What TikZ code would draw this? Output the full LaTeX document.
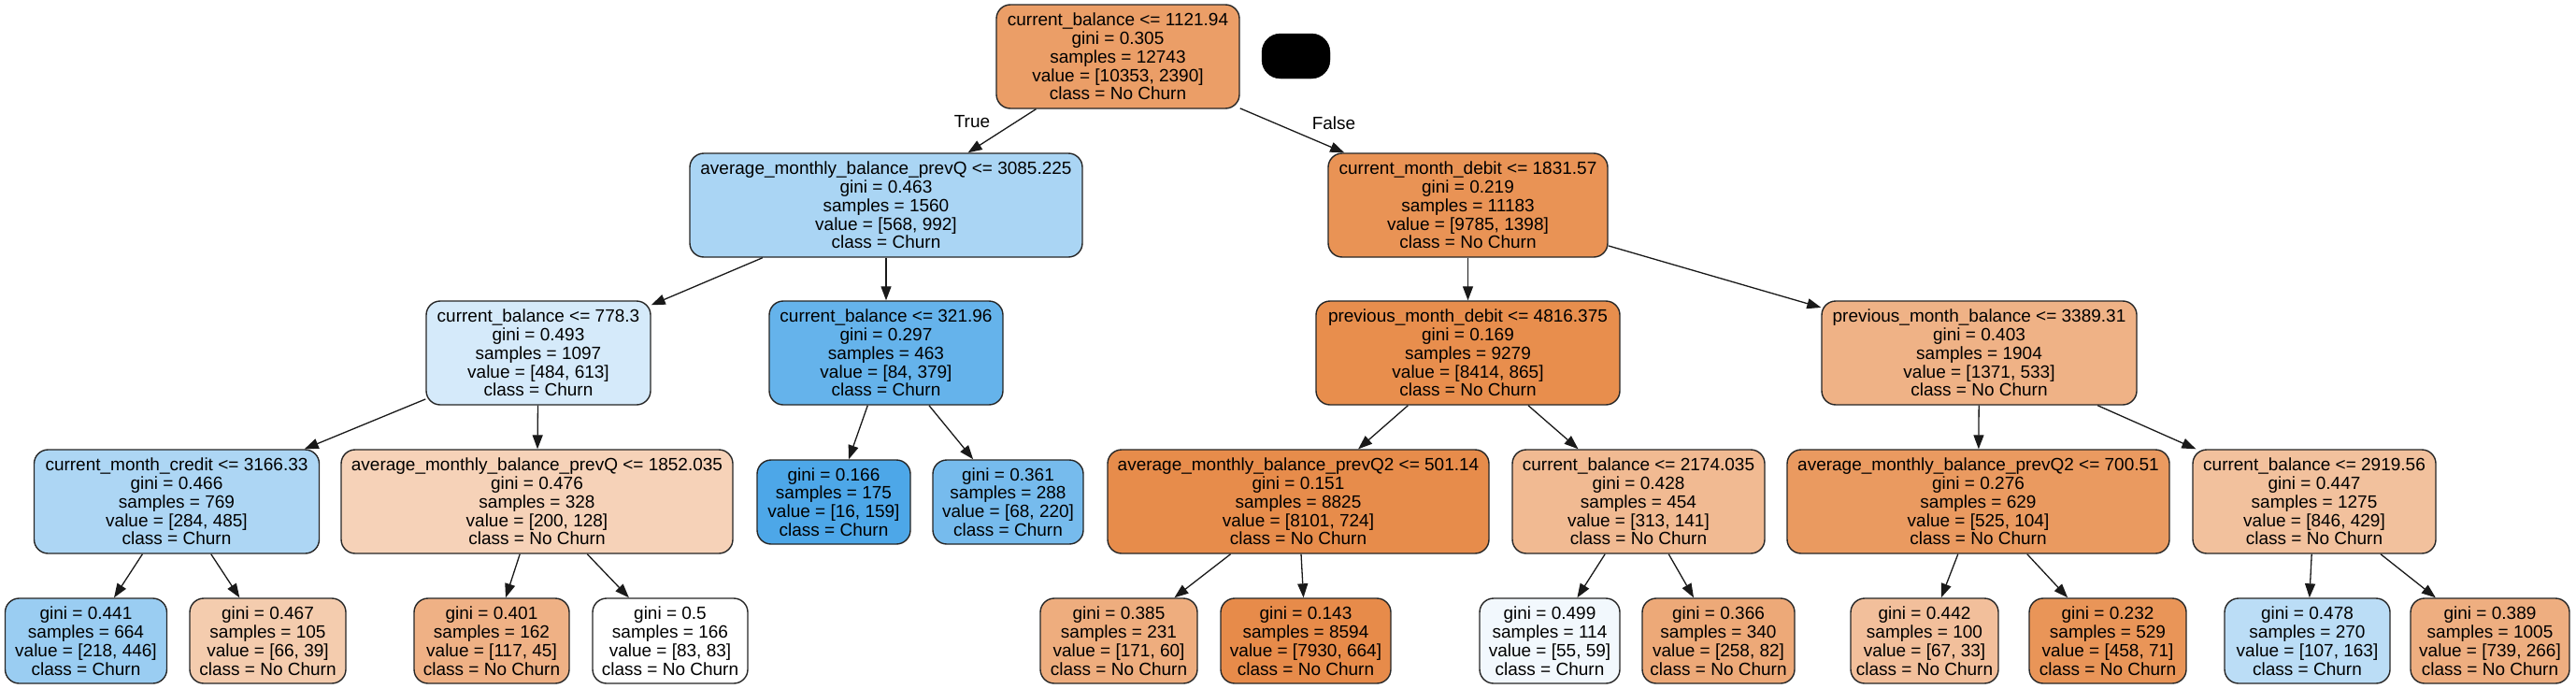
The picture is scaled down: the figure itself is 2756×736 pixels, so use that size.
\documentclass[tikz,border=0pt]{standalone}
\usepackage{fontspec}
\setmainfont{Liberation Sans}
\usetikzlibrary{arrows.meta}
\definecolor{cR}{RGB}{235,158,103}
\definecolor{cLa}{RGB}{170,213,244}
\definecolor{cLb}{RGB}{233,147,85}
\definecolor{cMa}{RGB}{213,234,250}
\definecolor{cMb}{RGB}{101,179,235}
\definecolor{cMc}{RGB}{232,142,77}
\definecolor{cMd}{RGB}{239,178,134}
\definecolor{cNa}{RGB}{173,214,244}
\definecolor{cNb}{RGB}{246,210,184}
\definecolor{cNc}{RGB}{77,167,232}
\definecolor{cNd}{RGB}{118,187,237}
\definecolor{cNe}{RGB}{231,140,75}
\definecolor{cNf}{RGB}{241,186,146}
\definecolor{cNg}{RGB}{234,154,96}
\definecolor{cNh}{RGB}{242,193,157}
\definecolor{cPa}{RGB}{154,205,242}
\definecolor{cPb}{RGB}{244,204,174}
\definecolor{cPc}{RGB}{239,177,133}
\definecolor{cPd}{RGB}{255,255,255}
\definecolor{cPe}{RGB}{238,173,126}
\definecolor{cPf}{RGB}{231,139,74}
\definecolor{cPg}{RGB}{242,248,253}
\definecolor{cPh}{RGB}{237,169,120}
\definecolor{cPi}{RGB}{242,191,155}
\definecolor{cPj}{RGB}{233,149,88}
\definecolor{cPk}{RGB}{187,221,246}
\definecolor{cPl}{RGB}{238,174,128}
\begin{document}
\begin{tikzpicture}[x=1pt,y=-1pt,
  box/.style={draw=black!85, line width=1.4pt, rounded corners=15pt, align=center, inner sep=0pt, font=\fontsize{19}{19.8}\selectfont},
  inner/.style={box, minimum height=111pt},
  leaf/.style={box, minimum height=91pt},
  edge/.style={draw=black!90, line width=1.3pt, -{Triangle[length=15pt,width=11pt]}},
  lbl/.style={font=\fontsize{19}{19.8}\selectfont, inner sep=0pt}]
\useasboundingbox (0,0) rectangle (2756,736);
% level 0
\node[inner, fill=cR, minimum width=260pt] (n0) at (1196,60.5) {current\_balance <= 1121.94\\gini = 0.305\\samples = 12743\\value = [10353, 2390]\\class = No Churn};
\node[fill=black, draw=black, rounded corners=20pt, minimum width=73pt, minimum height=48pt, inner sep=0pt] (hid) at (1386.5,60) {};
% level 1
\node[inner, fill=cLa, minimum width=420pt] (n1) at (948,219.5) {average\_monthly\_balance\_prevQ <= 3085.225\\gini = 0.463\\samples = 1560\\value = [568, 992]\\class = Churn};
\node[inner, fill=cLb, minimum width=299pt] (n2) at (1570.5,219.5) {current\_month\_debit <= 1831.57\\gini = 0.219\\samples = 11183\\value = [9785, 1398]\\class = No Churn};
% level 2
\node[inner, fill=cMa, minimum width=240pt] (n3) at (576,377.5) {current\_balance <= 778.3\\gini = 0.493\\samples = 1097\\value = [484, 613]\\class = Churn};
\node[inner, fill=cMb, minimum width=250pt] (n4) at (948,377.5) {current\_balance <= 321.96\\gini = 0.297\\samples = 463\\value = [84, 379]\\class = Churn};
\node[inner, fill=cMc, minimum width=325pt] (n5) at (1570.5,377.5) {previous\_month\_debit <= 4816.375\\gini = 0.169\\samples = 9279\\value = [8414, 865]\\class = No Churn};
\node[inner, fill=cMd, minimum width=337pt] (n6) at (2117.5,377.5) {previous\_month\_balance <= 3389.31\\gini = 0.403\\samples = 1904\\value = [1371, 533]\\class = No Churn};
% level 3
\node[inner, fill=cNa, minimum width=305pt] (n7) at (189,536.5) {current\_month\_credit <= 3166.33\\gini = 0.466\\samples = 769\\value = [284, 485]\\class = Churn};
\node[inner, fill=cNb, minimum width=419pt] (n8) at (574.5,536.5) {average\_monthly\_balance\_prevQ <= 1852.035\\gini = 0.476\\samples = 328\\value = [200, 128]\\class = No Churn};
\node[box, fill=cNc, minimum width=164pt, minimum height=90pt] (n9) at (892,537) {gini = 0.166\\samples = 175\\value = [16, 159]\\class = Churn};
\node[box, fill=cNd, minimum width=161pt, minimum height=90pt] (n10) at (1078.5,537) {gini = 0.361\\samples = 288\\value = [68, 220]\\class = Churn};
\node[inner, fill=cNe, minimum width=408pt] (n11) at (1389,536.5) {average\_monthly\_balance\_prevQ2 <= 501.14\\gini = 0.151\\samples = 8825\\value = [8101, 724]\\class = No Churn};
\node[inner, fill=cNf, minimum width=270pt] (n12) at (1753,536.5) {current\_balance <= 2174.035\\gini = 0.428\\samples = 454\\value = [313, 141]\\class = No Churn};
\node[inner, fill=cNg, minimum width=409pt] (n13) at (2116.5,536.5) {average\_monthly\_balance\_prevQ2 <= 700.51\\gini = 0.276\\samples = 629\\value = [525, 104]\\class = No Churn};
\node[inner, fill=cNh, minimum width=260pt] (n14) at (2476,536.5) {current\_balance <= 2919.56\\gini = 0.447\\samples = 1275\\value = [846, 429]\\class = No Churn};
% level 4
\node[leaf, fill=cPa, minimum width=173pt] (n15) at (92,685.5) {gini = 0.441\\samples = 664\\value = [218, 446]\\class = Churn};
\node[leaf, fill=cPb, minimum width=167pt] (n16) at (286.5,685.5) {gini = 0.467\\samples = 105\\value = [66, 39]\\class = No Churn};
\node[leaf, fill=cPc, minimum width=166pt] (n17) at (526,685.5) {gini = 0.401\\samples = 162\\value = [117, 45]\\class = No Churn};
\node[leaf, fill=cPd, minimum width=166pt] (n18) at (717,685.5) {gini = 0.5\\samples = 166\\value = [83, 83]\\class = No Churn};
\node[leaf, fill=cPe, minimum width=168pt] (n19) at (1197,685.5) {gini = 0.385\\samples = 231\\value = [171, 60]\\class = No Churn};
\node[leaf, fill=cPf, minimum width=182pt] (n20) at (1397,685.5) {gini = 0.143\\samples = 8594\\value = [7930, 664]\\class = No Churn};
\node[leaf, fill=cPg, minimum width=150pt] (n21) at (1658,685.5) {gini = 0.499\\samples = 114\\value = [55, 59]\\class = Churn};
\node[leaf, fill=cPh, minimum width=163pt] (n22) at (1838.5,685.5) {gini = 0.366\\samples = 340\\value = [258, 82]\\class = No Churn};
\node[leaf, fill=cPi, minimum width=158pt] (n23) at (2059,685.5) {gini = 0.442\\samples = 100\\value = [67, 33]\\class = No Churn};
\node[leaf, fill=cPj, minimum width=168pt] (n24) at (2255,685.5) {gini = 0.232\\samples = 529\\value = [458, 71]\\class = No Churn};
\node[leaf, fill=cPk, minimum width=177pt] (n25) at (2468.5,685.5) {gini = 0.478\\samples = 270\\value = [107, 163]\\class = Churn};
\node[leaf, fill=cPl, minimum width=170pt] (n26) at (2664,685.5) {gini = 0.389\\samples = 1005\\value = [739, 266]\\class = No Churn};
% edges
\draw[edge] (n0) -- (n1);
\draw[edge] (n0) -- (n2);
\draw[edge] (n1) -- (n3);
\draw[edge] (n1) -- (n4);
\draw[edge] (n2) -- (n5);
\draw[edge] (n2) -- (n6);
\draw[edge] (n3) -- (n7);
\draw[edge] (n3) -- (n8);
\draw[edge] (n4) -- (n9);
\draw[edge] (n4) -- (n10);
\draw[edge] (n5) -- (n11);
\draw[edge] (n5) -- (n12);
\draw[edge] (n6) -- (n13);
\draw[edge] (n6) -- (n14);
\draw[edge] (n7) -- (n15);
\draw[edge] (n7) -- (n16);
\draw[edge] (n8) -- (n17);
\draw[edge] (n8) -- (n18);
\draw[edge] (n11) -- (n19);
\draw[edge] (n11) -- (n20);
\draw[edge] (n12) -- (n21);
\draw[edge] (n12) -- (n22);
\draw[edge] (n13) -- (n23);
\draw[edge] (n13) -- (n24);
\draw[edge] (n14) -- (n25);
\draw[edge] (n14) -- (n26);
% edge labels
\node[lbl] (tl) at (1040,130) {True};
\node[lbl] (fl) at (1427,132) {False};
\end{tikzpicture}
\end{document}
